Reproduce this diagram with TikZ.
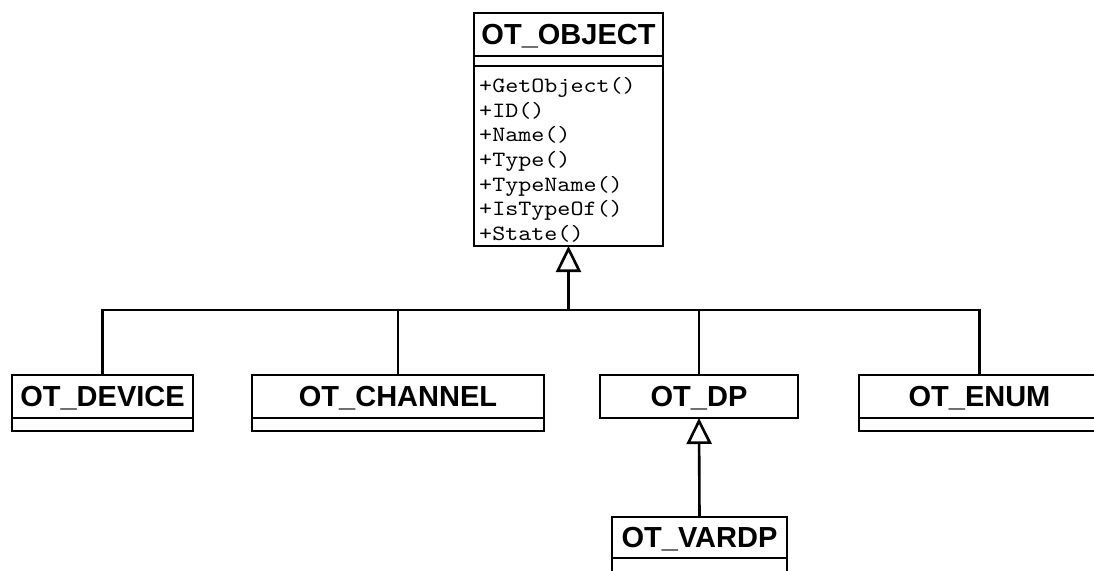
\documentclass[tikz,border=0pt]{standalone}
\usepackage{fontspec}
\setmainfont{Liberation Sans}
\newfontfamily\methfont[FakeStretch=1.14]{lmmono10-regular.otf}
\usetikzlibrary{arrows.meta}

\begin{document}
\begin{tikzpicture}[x=1pt, y=-1pt,
  umlbox/.style={draw, line width=2.9pt, inner sep=0pt, outer sep=0pt, anchor=north},
  umltitle/.style={umlbox, minimum height=43pt,
    font=\fontsize{29}{29}\selectfont\bfseries, text height=20.8pt, text depth=0pt},
  umlcomp/.style={umlbox, minimum height=13pt},
  umlmeth/.style={anchor=base west, inner sep=0pt, font=\fontsize{21.8}{21.8}\methfont},
  wire/.style={line width=2.6pt},
  gen/.style={wire, -{Triangle[open, length=26pt, width=25pt]}}]

\useasboundingbox (0,0) rectangle (1094,570);
\clip (0,0) rectangle (1094,570);

% base class with its operations
\node[umltitle, minimum width=189pt] (obj) at (568.5,13) {OT\_OBJECT};
\node[umlcomp, minimum width=189pt, minimum height=10pt] (objattr) at (obj.south) {};
\node[umlbox, minimum width=189pt, minimum height=180pt] (objops) at (objattr.south) {};
\foreach \m [count=\i from 0] in {+GetObject(), +ID(), +Name(), +Type(), +TypeName(), +IsTypeOf(), +State()}
  \node[umlmeth] (op\i) at (479, 92.5+24.65*\i) {\m};

% derived classes
\node[umltitle, minimum width=181pt] (dev) at (102.5,375) {OT\_DEVICE};
\node[umlcomp, minimum width=181pt] (devc) at (dev.south) {};
\node[umltitle, minimum width=292pt] (chan) at (398,375) {OT\_CHANNEL};
\node[umlcomp, minimum width=292pt] (chanc) at (chan.south) {};
\node[umltitle, minimum width=198pt] (dp) at (699,375) {OT\_DP};
\node[umltitle, minimum width=241pt] (enum) at (979.5,375) {OT\_ENUM};
\node[umlcomp, minimum width=241pt] (enumc) at (enum.south) {};
\node[umltitle, minimum width=175pt, minimum height=41pt] (vardp) at (699.5,517) {OT\_VARDP};
\node[umlcomp, minimum width=175pt, minimum height=20pt] (vardpc) at (vardp.south) {};

% generalisation tree
\coordinate (bus) at (568.5,310);
\draw[gen] (bus) -- (objops.south);
\draw[wire] (dev.north) |- (bus);
\draw[wire] (chan.north) |- (bus);
\draw[wire] (dp.north) |- (bus);
\draw[wire] (enum.north) |- (bus);
\draw[gen] (vardp.north) -- (dp.south);
\end{tikzpicture}
\end{document}
